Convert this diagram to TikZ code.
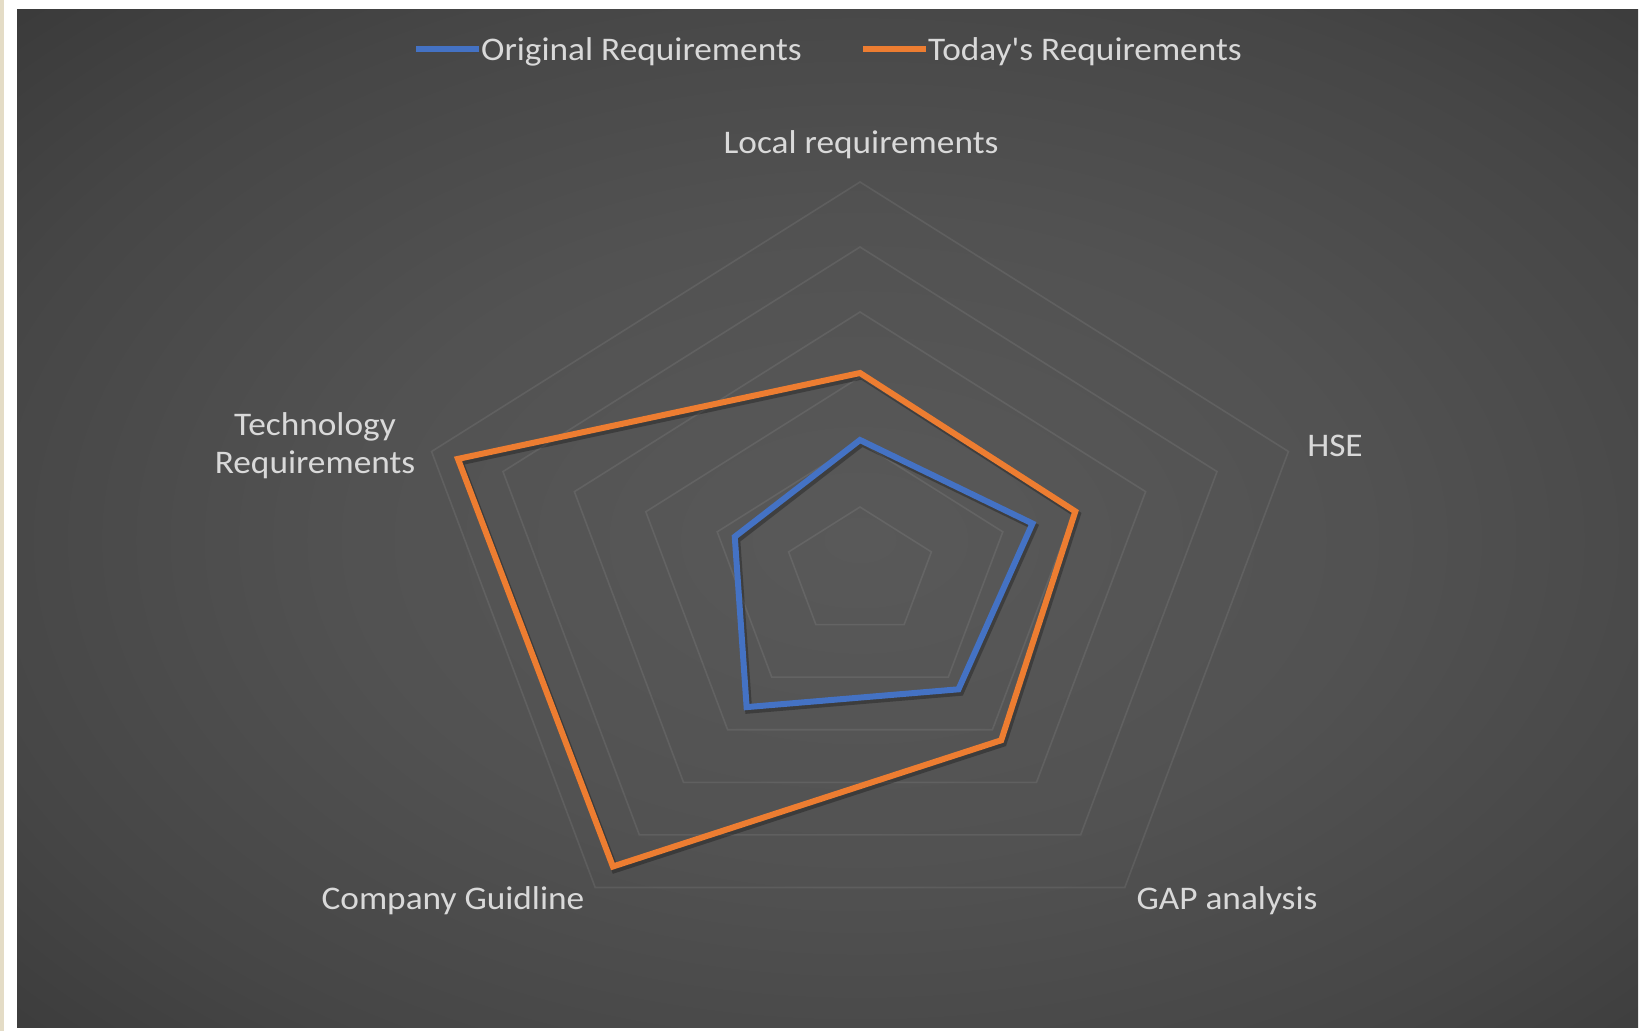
\documentclass[tikz,border=0pt]{standalone}
\usepackage{fontspec}
\setmainfont{Carlito}[Ligatures=TeXOff]
\usepackage{graphicx}
\newcommand{\stretchtxt}[1]{\scalebox{1.07}[1]{#1}}
\definecolor{bluec}{HTML}{4472C4}
\definecolor{orangec}{HTML}{ED7D31}
\definecolor{labelc}{HTML}{D9D9D9}
\definecolor{beige}{HTML}{E4DCC6}
\definecolor{bgA}{HTML}{595959}
\definecolor{bgB}{HTML}{525252}
\definecolor{bgC}{HTML}{464646}
\definecolor{bgD}{HTML}{393939}
\definecolor{bgE}{HTML}{2D2D2D}
\definecolor{bgF}{HTML}{282828}
\pgfdeclareradialshading{panelshade}{\pgfpoint{0bp}{0bp}}{color(0bp)=(bgA); color(11bp)=(bgB); color(20bp)=(bgC); color(27bp)=(bgD); color(35bp)=(bgE); color(50bp)=(bgF)}
\begin{document}
\begin{tikzpicture}[x=1pt,y=-1pt,
  grid/.style={draw=white, draw opacity=0.08, line width=1.6pt, line join=miter},
  series/.style={line width=6pt, line join=miter},
  shadowline/.style={line width=7pt, line join=miter, draw=black, draw opacity=0.28},
  lbl/.style={text=labelc, font=\fontsize{33}{38}\selectfont, inner sep=0pt, align=center},
]
\useasboundingbox (0,0) rectangle (1639,1031);
\fill[white] (0,0) rectangle (1639,1031);
\fill[beige] (0,0) rectangle (4,1031);
\begin{scope}
  \clip (17,9) rectangle (1638,1027);
  \shade[shading=panelshade] (-280,-180) rectangle (2000,1260);
\end{scope}

% radar chart
\begin{scope}[shift={(860,572)}, xscale=1.155, yscale=-1]
  \foreach \k in {1,...,6}{
    \draw[grid] (90:{65*\k}) -- (18:{65*\k}) -- (-54:{65*\k}) -- (-126:{65*\k}) -- (162:{65*\k}) -- cycle;
  }
  % Original requirements
  \coordinate (b1) at (90:132);
  \coordinate (b2) at (18:157);
  \coordinate (b3) at (-54:145);
  \coordinate (b4) at (-126:167);
  \coordinate (b5) at (162:114);
  % Today's requirements
  \coordinate (o1) at (90:199);
  \coordinate (o2) at (18:196);
  \coordinate (o3) at (-54:208);
  \coordinate (o4) at (-126:364);
  \coordinate (o5) at (162:366);
\end{scope}

\begin{scope}[transform canvas={shift={(2pt,-3pt)}}]
  \draw[shadowline] (b1) -- (b2) -- (b3) -- (b4) -- (b5) -- cycle;
  \draw[shadowline] (o1) -- (o2) -- (o3) -- (o4) -- (o5) -- cycle;
\end{scope}
\draw[series, bluec] (b1) -- (b2) -- (b3) -- (b4) -- (b5) -- cycle;
\draw[series, orangec] (o1) -- (o2) -- (o3) -- (o4) -- (o5) -- cycle;

% axis labels
\node[lbl, anchor=base] (local) at (861,153.5) {\stretchtxt{Local requirements}};
\node[lbl, anchor=base] (hse) at (1335,456) {\stretchtxt{HSE}};
\node[lbl, anchor=base] (gap) at (1227,909) {\stretchtxt{GAP analysis}};
\node[lbl, anchor=base] (company) at (453,909) {\stretchtxt{Company Guidline}};
\node[lbl, anchor=center] (tech) at (315,446) {\stretchtxt{Technology}\\\stretchtxt{Requirements}};

% legend
\coordinate (lb1) at (416,49);
\coordinate (lb2) at (479,49);
\coordinate (lo1) at (863,49);
\coordinate (lo2) at (926,49);
\draw[line width=5.5pt, bluec] (lb1) -- (lb2);
\draw[line width=5.5pt, orangec] (lo1) -- (lo2);
\node[lbl, anchor=base west] (legorig) at (481,60.5) {\stretchtxt{Original Requirements}};
\node[lbl, anchor=base west] (legtoday) at (928,60.5) {\stretchtxt{Today's Requirements}};
\end{tikzpicture}
\end{document}
